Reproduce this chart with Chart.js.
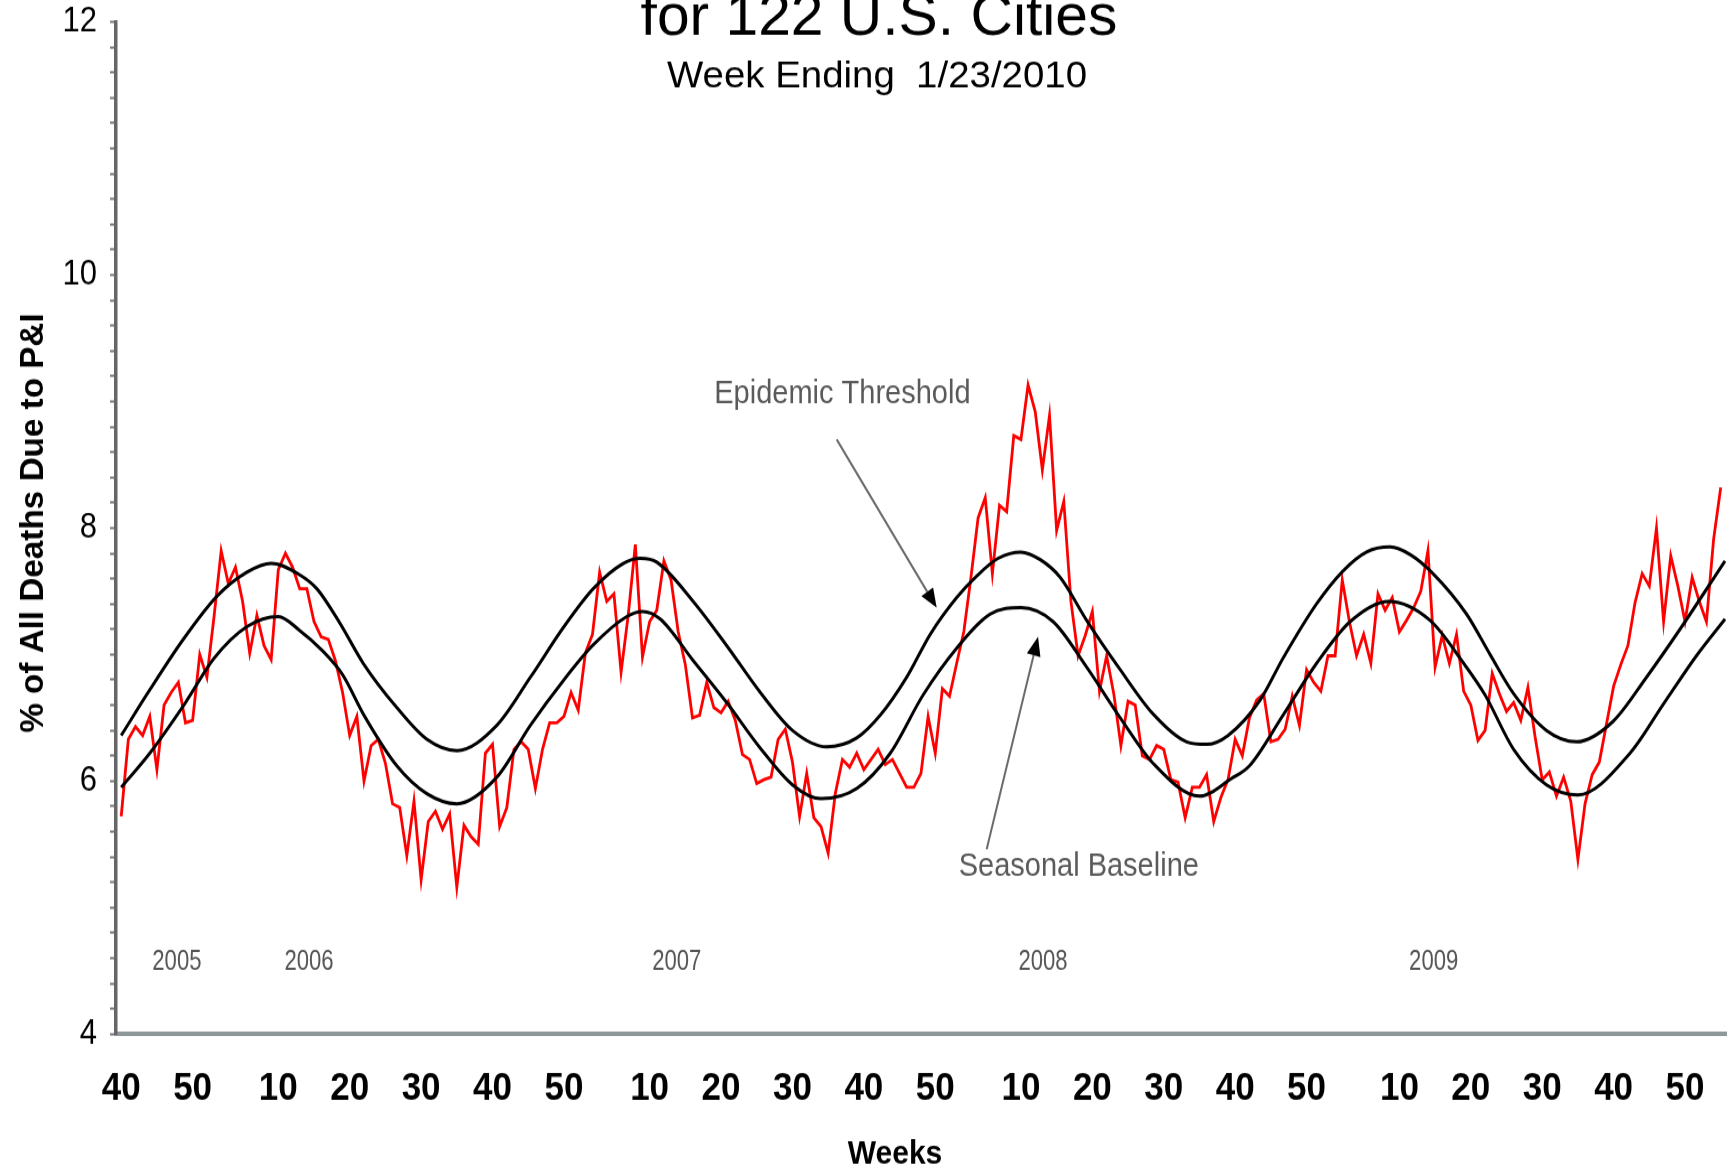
<!DOCTYPE html>
<html>
<head>
<meta charset="utf-8">
<script src="https://cdn.jsdelivr.net/npm/chart.js@4.4.1/dist/chart.umd.min.js"></script>
<style>
html,body{margin:0;padding:0;background:#fff;overflow:hidden;width:1727px;height:1167px;}
#wrap{position:absolute;left:0;top:0;transform:scaleY(1.12);transform-origin:0 0;}
canvas{display:block;}
</style>
</head>
<body>
<div id="wrap"><canvas id="c" width="1760" height="1060"></canvas></div>
<script>
// ---------------- data ----------------
const chartTitle = 'for 122 U.S. Cities';
const chartSubtitle = 'Week Ending  1/23/2010';
const yAxisTitle = '% of All Deaths Due to P&I';
const xAxisTitle = 'Weeks';

// x = weeks since MMWR week 40 of 2005 (2008 has 53 weeks)
const xTickIndex  = [0, 10, 22, 32, 42, 52, 62, 74, 84, 94, 104, 114, 126, 136, 146, 156, 166, 179, 189, 199, 209, 219];
const xTickLabels = ['40','50','10','20','30','40','50','10','20','30','40','50','10','20','30','40','50','10','20','30','40','50'];
const yLabelValues = [4, 6, 8, 10, 12];

const yearLabels = ['2005', '2006', '2007', '2008', '2009'];
const yearLabelWeek = [7.8, 26.3, 77.8, 129.1, 183.8];
const yearLabelValue = 4.57;

// weekly % of deaths due to pneumonia & influenza, 2005 wk40 .. 2010 wk3
const piPercent = [
  5.72, 6.33, 6.43, 6.36, 6.51, 6.09, 6.60, 6.70, 6.78, 6.46,
  6.48, 7.00, 6.82, 7.30, 7.82, 7.56, 7.69, 7.42, 7.01, 7.31,
  7.07, 6.96, 7.67, 7.80, 7.69, 7.52, 7.52, 7.26, 7.14, 7.12,
  6.95, 6.70, 6.36, 6.51, 6.00, 6.28, 6.33, 6.14, 5.82, 5.79,
  5.41, 5.84, 5.22, 5.68, 5.76, 5.62, 5.74, 5.16, 5.65, 5.56,
  5.50, 6.22, 6.29, 5.64, 5.79, 6.25, 6.31, 6.25, 5.94, 6.25,
  6.46, 6.46, 6.51, 6.70, 6.56, 7.01, 7.16, 7.65, 7.42, 7.48,
  6.86, 7.31, 7.87, 6.98, 7.26, 7.35, 7.74, 7.59, 7.18, 6.92,
  6.50, 6.52, 6.78, 6.58, 6.54, 6.63, 6.48, 6.21, 6.17, 5.98,
  6.01, 6.03, 6.33, 6.41, 6.15, 5.72, 6.06, 5.71, 5.64, 5.43,
  5.90, 6.17, 6.11, 6.22, 6.09, 6.17, 6.25, 6.13, 6.17, 6.06,
  5.95, 5.95, 6.06, 6.51, 6.22, 6.73, 6.67, 6.93, 7.18, 7.61,
  8.08, 8.24, 7.64, 8.18, 8.13, 8.73, 8.70, 9.13, 8.92, 8.46,
  8.89, 7.98, 8.21, 7.42, 6.99, 7.15, 7.34, 6.71, 6.99, 6.69,
  6.28, 6.63, 6.60, 6.20, 6.17, 6.28, 6.25, 6.01, 5.99, 5.71,
  5.95, 5.95, 6.05, 5.68, 5.87, 6.01, 6.33, 6.20, 6.50, 6.64,
  6.69, 6.31, 6.33, 6.41, 6.67, 6.44, 6.88, 6.78, 6.71, 6.99,
  6.99, 7.59, 7.26, 6.99, 7.16, 6.93, 7.48, 7.35, 7.45, 7.18,
  7.27, 7.37, 7.50, 7.82, 6.90, 7.15, 6.93, 7.16, 6.71, 6.60,
  6.32, 6.40, 6.85, 6.69, 6.55, 6.62, 6.48, 6.74, 6.35, 6.01,
  6.07, 5.88, 6.03, 5.84, 5.38, 5.82, 6.05, 6.15, 6.45, 6.75,
  6.92, 7.07, 7.41, 7.64, 7.54, 8.00, 7.26, 7.78, 7.54, 7.26,
  7.61, 7.42, 7.26, 7.91, 8.32
];

// seasonal baseline, read at these weeks
const baselineWeeks  = [0, 4, 9, 13, 17.6, 22, 25, 28, 31, 34, 38.6, 42.8, 47, 52.6, 57.3, 62, 66, 70.8, 73, 75.5, 80, 84.8, 89.5, 94, 98, 103, 107.7, 112.3, 117, 121.7, 126, 130.5, 135.2, 139.9, 144.5, 151, 155.5, 158, 162.7, 167.4, 172.1, 177.5, 183.3, 188, 191, 195, 199.6, 204, 211.3, 216, 220.6, 224.6];
const baselineValues = [5.95, 6.22, 6.62, 6.97, 7.22, 7.30, 7.19, 7.04, 6.84, 6.52, 6.12, 5.90, 5.82, 6.03, 6.44, 6.80, 7.07, 7.30, 7.34, 7.28, 6.96, 6.62, 6.26, 5.97, 5.86, 5.94, 6.22, 6.68, 7.05, 7.32, 7.37, 7.26, 6.90, 6.50, 6.14, 5.88, 6.02, 6.12, 6.52, 6.93, 7.26, 7.42, 7.27, 6.93, 6.68, 6.25, 5.97, 5.89, 6.22, 6.61, 6.99, 7.28];

// epidemic threshold, read at these weeks
const thresholdWeeks  = [0, 4, 8.7, 13.4, 17.6, 21, 25, 27.4, 30.6, 33.9, 38.6, 42.8, 47, 52.6, 57.3, 62, 66.1, 70.3, 72.7, 75, 80.1, 84.8, 89.5, 94, 98.8, 103, 106.3, 110, 113.3, 117, 119.8, 122.8, 126, 128.7, 131.5, 135.2, 139.9, 144.5, 149.2, 152, 155, 159.5, 162.7, 167.4, 171.1, 174.4, 177.7, 180.5, 183.7, 188.4, 191.7, 195, 199.6, 203.8, 208.9, 213.6, 218.3, 224.6];
const thresholdValues = [6.36, 6.72, 7.12, 7.46, 7.65, 7.72, 7.63, 7.52, 7.25, 6.93, 6.58, 6.33, 6.24, 6.44, 6.82, 7.22, 7.52, 7.72, 7.76, 7.73, 7.42, 7.07, 6.70, 6.40, 6.27, 6.34, 6.52, 6.82, 7.16, 7.45, 7.62, 7.76, 7.81, 7.75, 7.61, 7.27, 6.88, 6.53, 6.31, 6.29, 6.36, 6.64, 6.97, 7.40, 7.66, 7.81, 7.85, 7.79, 7.64, 7.32, 7.00, 6.69, 6.40, 6.31, 6.47, 6.82, 7.20, 7.74];

// annotations (week, value)
const annotationText      = ['Epidemic Threshold', 'Seasonal Baseline'];
const annotationTextWeek  = [101.0, 134.1];
const annotationTextValue = [9.06, 5.32];
const arrowFromWeek  = [100.2, 121.2];
const arrowFromValue = [8.70, 5.46];
const arrowToWeek    = [114.2, 128.4];
const arrowToValue   = [7.37, 7.14];

// ---------------- chart ----------------
const FONT = 'Arial, "Liberation Sans", Helvetica, sans-serif';
Chart.defaults.font.family = FONT;
Chart.defaults.color = '#000';

function stretchedText(ctx, text, x, y, sx, rot) {
  ctx.save();
  ctx.translate(x, y);
  if (rot) ctx.rotate(rot);
  ctx.scale(sx, 1);
  ctx.fillText(text, 0, 0);
  ctx.restore();
}

const textPlugin = {
  id: 'cdcText',
  afterDraw(chart) {
    const ctx = chart.ctx;
    const xs = chart.scales.x, ys = chart.scales.y;
    ctx.save();
    ctx.textAlign = 'center';
    ctx.fillStyle = '#000';

    // titles
    ctx.textBaseline = 'alphabetic';
    ctx.font = '52px ' + FONT;
    stretchedText(ctx, chartTitle, 879, 31.3, 1.13, 0);
    ctx.font = '34px ' + FONT;
    stretchedText(ctx, chartSubtitle, 877, 78.0, 1.13, 0);

    // axis titles
    ctx.textBaseline = 'middle';
    ctx.font = 'bold 30px ' + FONT;
    ctx.fillText(xAxisTitle, 895, 1031);
    ctx.font = 'bold 33px ' + FONT;
    stretchedText(ctx, yAxisTitle, 34, 467, 0.9, -Math.PI / 2);

    // year labels
    ctx.fillStyle = '#555';
    ctx.font = '26px ' + FONT;
    yearLabels.forEach((t, k) => {
      stretchedText(ctx, t, xs.getPixelForValue(yearLabelWeek[k]), ys.getPixelForValue(yearLabelValue), 0.85, 0);
    });

    // annotation labels
    ctx.fillStyle = '#5a5a5a';
    ctx.font = '29px ' + FONT;
    annotationText.forEach((t, k) => {
      ctx.fillText(t, xs.getPixelForValue(annotationTextWeek[k]), ys.getPixelForValue(annotationTextValue[k]));
    });

    // arrows
    annotationText.forEach((t, k) => {
      const x1 = xs.getPixelForValue(arrowFromWeek[k]), y1 = ys.getPixelForValue(arrowFromValue[k]);
      const x2 = xs.getPixelForValue(arrowToWeek[k]),   y2 = ys.getPixelForValue(arrowToValue[k]);
      const ang = Math.atan2(y2 - y1, x2 - x1);
      const headLen = 17, headW = 7;
      const bx = x2 - headLen * Math.cos(ang), by = y2 - headLen * Math.sin(ang);
      ctx.strokeStyle = '#6a6a6a';
      ctx.lineWidth = 2;
      ctx.beginPath(); ctx.moveTo(x1, y1); ctx.lineTo(bx, by); ctx.stroke();
      ctx.fillStyle = '#000';
      ctx.beginPath();
      ctx.moveTo(x2, y2);
      ctx.lineTo(bx + headW * Math.sin(ang), by - headW * Math.cos(ang));
      ctx.lineTo(bx - headW * Math.sin(ang), by + headW * Math.cos(ang));
      ctx.closePath();
      ctx.fill();
    });
    ctx.restore();
  }
};

new Chart(document.getElementById('c'), {
  type: 'line',
  data: {
    datasets: [
      {
        label: 'Epidemic Threshold',
        data: thresholdWeeks.map((w, k) => ({x: w, y: thresholdValues[k]})),
        borderColor: '#000', borderWidth: 3, pointRadius: 0,
        cubicInterpolationMode: 'monotone', fill: false
      },
      {
        label: 'Seasonal Baseline',
        data: baselineWeeks.map((w, k) => ({x: w, y: baselineValues[k]})),
        borderColor: '#000', borderWidth: 3, pointRadius: 0,
        cubicInterpolationMode: 'monotone', fill: false
      },
      {
        label: '% P&I',
        data: piPercent.map((v, i) => ({x: i, y: v})),
        borderColor: '#ff0000', borderWidth: 2.8, pointRadius: 0,
        tension: 0, fill: false
      }
    ]
  },
  options: {
    responsive: false,
    animation: false,
    events: [],
    layout: {padding: {top: 19.64, left: 0, right: 0, bottom: 0}},
    plugins: {legend: {display: false}, tooltip: {enabled: false}, title: {display: false}},
    scales: {
      x: {
        type: 'linear',
        min: -0.73,
        max: 229.5,
        afterFit(scale) { scale.height = 1060 - 923.2; scale.paddingLeft = 0; scale.paddingRight = 0; },
        afterBuildTicks(scale) { scale.ticks = xTickIndex.map(v => ({value: v})); },
        border: {display: true, color: '#8e9898', width: 4},
        grid: {display: false, drawTicks: false},
        ticks: {
          autoSkip: false, maxRotation: 0, padding: 28, color: '#000',
          font: {family: FONT, size: 35, weight: 'bold'},
          callback: (v) => { const k = xTickIndex.indexOf(v); return k >= 0 ? xTickLabels[k] : ''; }
        }
      },
      y: {
        type: 'linear',
        min: 4,
        max: 12,
        afterFit(scale) { scale.width = 116; scale.paddingTop = 0; scale.paddingBottom = 0; },
        border: {display: true, color: '#666', width: 3.5},
        grid: {display: true, drawOnChartArea: false, drawTicks: true, tickLength: 6, tickColor: '#777', tickWidth: 2},
        ticks: {
          stepSize: 0.2, autoSkip: false, padding: 13, color: '#000',
          font: {family: FONT, size: 31},
          callback: (v) => {
            const r = Math.round(v);
            return (Math.abs(v - r) < 1e-6 && yLabelValues.includes(r)) ? String(r) : '';
          }
        },
        title: {display: false}
      }
    }
  },
  plugins: [textPlugin]
});
</script>
</body>
</html>
